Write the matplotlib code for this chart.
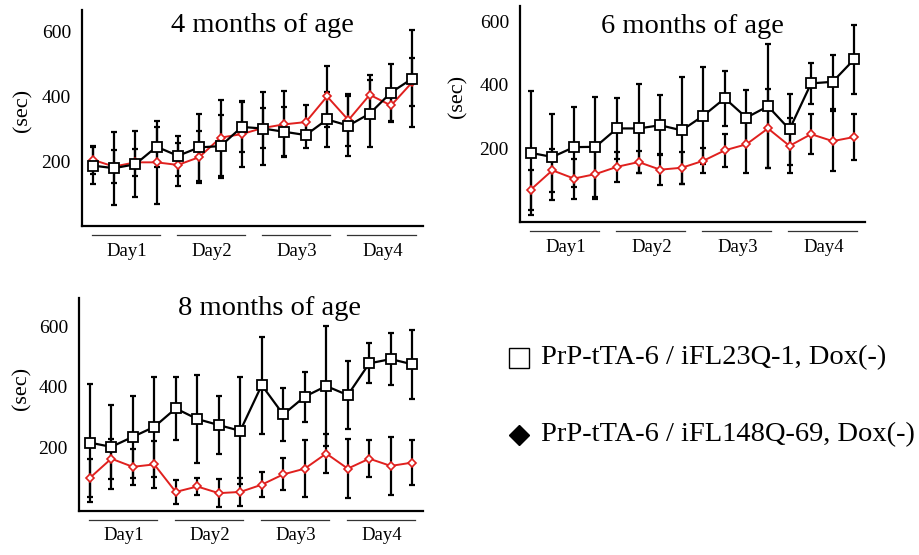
import matplotlib
matplotlib.use("Agg")
import matplotlib.pyplot as plt
from matplotlib.lines import Line2D
import numpy as np

plt.rcParams['font.family'] = ['Liberation Serif', 'DejaVu Serif']

# trials 1-16 (4 per day)
days = ["Day1", "Day2", "Day3", "Day4"]
titles = ["4 months of age", "6 months of age", "8 months of age"]
legend_labels = ["PrP-tTA-6 / iFL23Q-1, Dox(-)", "PrP-tTA-6 / iFL148Q-69, Dox(-)"]
yticks = [200, 400, 600]

# 4 months
m4_ctrl = [186, 178, 190, 244, 216, 242, 246, 305, 300, 290, 280, 328, 309, 346, 411, 454]
m4_ctrl_err = [58, 112, 102, 61, 61, 102, 97, 76, 112, 76, 41, 86, 92, 102, 87, 148]
m4_q148 = [204, 183, 196, 196, 188, 212, 272, 283, 302, 313, 320, 399, 326, 404, 371, 443]
m4_q148_err = [43, 51, 41, 127, 66, 81, 117, 102, 61, 102, 51, 95, 81, 61, 51, 74]

# 6 months
m6_ctrl = [185, 172, 203, 204, 262, 262, 272, 256, 302, 357, 296, 332, 259, 404, 409, 480]
m6_ctrl_err = [196, 135, 127, 158, 95, 140, 95, 168, 153, 86, 86, 195, 111, 65, 86, 108]
m6_q148 = [69, 130, 104, 118, 141, 156, 132, 138, 160, 193, 212, 262, 207, 244, 222, 235]
m6_q148_err = [63, 68, 63, 79, 47, 35, 49, 51, 40, 53, 91, 124, 87, 63, 95, 72]

# 8 months
m8_ctrl = [216, 202, 235, 268, 329, 294, 274, 255, 406, 309, 368, 403, 373, 478, 492, 475]
m8_ctrl_err = [195, 138, 135, 166, 105, 147, 96, 177, 160, 88, 83, 197, 113, 66, 86, 114]
m8_q148 = [99, 163, 136, 144, 53, 71, 49, 53, 77, 111, 130, 180, 130, 163, 139, 150]
m8_q148_err = [64, 66, 60, 77, 41, 28, 46, 46, 42, 53, 94, 64, 97, 61, 97, 74]

W, H = 919, 555
fig = plt.figure(figsize=(W / 100, H / 100), dpi=100)

RED = "#e0201e"

def px_axes(left, top, right, bottom):
    return fig.add_axes([left / W, 1 - bottom / H, (right - left) / W, (bottom - top) / H])

def panel(ax, ctrl, ctrl_err, q148, q148_err, title, ylim, title_xy, ylab_xy, hpx):
    x = np.arange(len(ctrl))
    ax.errorbar(x, q148, yerr=q148_err, fmt='none', ecolor='black',
                elinewidth=1.6, capsize=2.5, capthick=1.6, zorder=2)
    ax.errorbar(x, ctrl, yerr=ctrl_err, fmt='none', ecolor='black',
                elinewidth=1.6, capsize=2.5, capthick=1.6, zorder=2)
    ax.plot(x, q148, color=RED, lw=1.4, marker='D', ms=4, mfc='white',
            mec=RED, mew=1.2, zorder=3)
    ax.plot(x, ctrl, color='black', lw=1.6, marker='s', ms=6.5, mfc='white',
            mec='black', mew=1.3, zorder=4)
    ax.set_xlim(-0.5, 15.5)
    ax.set_ylim(*ylim)
    ax.set_yticks(yticks)
    ax.set_xticks([])
    ax.tick_params(axis='y', length=0, pad=8, labelsize=14)
    for s in ['top', 'right']:
        ax.spines[s].set_visible(False)
    for s in ['left', 'bottom']:
        ax.spines[s].set_linewidth(1.6)
    ax.set_ylabel("(sec)", fontsize=16)
    ax.yaxis.set_label_coords(*ylab_xy)
    ax.text(title_xy[0], title_xy[1], title, transform=ax.transAxes,
            ha='center', va='center', fontsize=20.5)
    tr = ax.get_xaxis_transform()
    for i, d in enumerate(days):
        ax.plot([4 * i - 0.05, 4 * i + 3.15], [-9 / hpx] * 2, transform=tr,
                color='#333333', lw=0.9, clip_on=False)
        ax.text(4 * i + 1.6, -25 / hpx, d, transform=tr, ha='center',
                va='center', fontsize=13.5)

ax1 = px_axes(82, 10, 423, 226)
panel(ax1, m4_ctrl, m4_ctrl_err, m4_q148, m4_q148_err, titles[0], (0, 665),
      (0.53, 0.93), (-0.144, 0.537), 216)

ax2 = px_axes(520, 6, 865, 222)
panel(ax2, m6_ctrl, m6_ctrl_err, m6_q148, m6_q148_err, titles[1], (-33, 648),
      (0.50, 0.907), (-0.151, 0.58), 216)

ax3 = px_axes(79, 298, 423, 511)
panel(ax3, m8_ctrl, m8_ctrl_err, m8_q148, m8_q148_err, titles[2], (-10, 694),
      (0.555, 0.953), (-0.137, 0.577), 213)

# legend
fig.add_artist(Line2D([519 / W], [1 - 358 / H], marker='s', ms=14, mfc='white',
                      mec='black', mew=1.0, transform=fig.transFigure))
fig.add_artist(Line2D([519 / W], [1 - 435 / H], marker='D', ms=10, mfc='black',
                      mec='black', transform=fig.transFigure))
fig.text(541 / W, 1 - 358 / H, legend_labels[0], fontsize=20.5, va='center', ha='left')
fig.text(541 / W, 1 - 435 / H, legend_labels[1], fontsize=20.5, va='center', ha='left')

fig.savefig("out.png", dpi=100)
